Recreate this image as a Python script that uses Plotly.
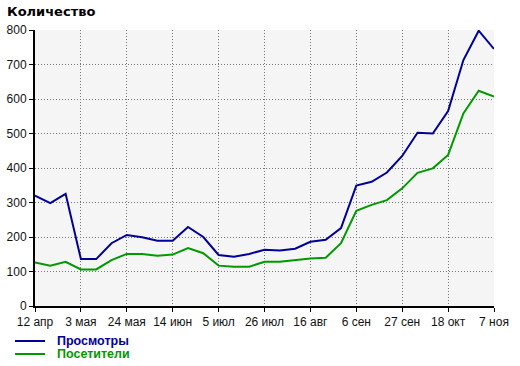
import plotly.graph_objects as go

weeks = list(range(31))
tick_pos = list(range(0, 31, 3))
tick_labels = ["12 апр", "3 мая", "24 мая", "14 июн", "5 июл", "26 июл",
               "16 авг", "6 сен", "27 сен", "18 окт", "7 ноя"]

views = [320, 298, 325, 136, 136, 182, 206, 199, 189, 189, 229, 200, 148, 143, 151,
         163, 161, 166, 186, 192, 226, 349, 360, 387, 435, 502, 500, 565, 713, 798, 745]
visitors = [126, 117, 128, 106, 106, 133, 151, 151, 146, 149, 168, 153, 117, 114, 114,
            128, 128, 133, 138, 140, 182, 276, 293, 307, 341, 386, 399, 438, 558, 624, 607]

BLUE = "#000099"
GREEN = "#009900"

fig = go.Figure()
fig.add_trace(go.Scatter(x=weeks, y=views, mode="lines", name="Просмотры",
                         line=dict(color=BLUE, width=2)))
fig.add_trace(go.Scatter(x=weeks, y=visitors, mode="lines", name="Посетители",
                         line=dict(color=GREEN, width=2)))

W, H = 520, 366
L, R, T, B = 35, 26, 30, 60
pw, ph = W - L - R, H - T - B

def px(x):
    return (x - L) / pw

def py(y):
    return (H - B - y) / ph

shapes = []
annotations = [dict(text="<b>Количество</b>", x=px(5), y=py(12), xref="paper", yref="paper",
                    xanchor="left", yanchor="middle", showarrow=False,
                    font=dict(family="DejaVu Sans", size=13, color="#000"))]
for name, color, ypix in [("Просмотры", BLUE, 341), ("Посетители", GREEN, 354)]:
    shapes.append(dict(type="line", xref="paper", yref="paper", x0=px(15), x1=px(45),
                       y0=py(ypix), y1=py(ypix), line=dict(color=color, width=2)))
    annotations.append(dict(text="<b>" + name + "</b>", x=px(55), y=py(ypix), xref="paper",
                            yref="paper", xanchor="left", yanchor="middle", showarrow=False,
                            font=dict(family="Liberation Sans", size=12.5, color=color)))

fig.update_layout(
    width=W, height=H,
    margin=dict(l=L, r=R, t=T, b=B, autoexpand=False),
    paper_bgcolor="white", plot_bgcolor="#f5f5f5",
    showlegend=False,
    font=dict(family="Liberation Sans", size=12, color="#111"),
    shapes=shapes, annotations=annotations,
)
fig.update_xaxes(range=[0, 30], tickvals=tick_pos, ticktext=tick_labels, automargin=False,
                 showgrid=True, gridcolor="#777", griddash="1px,2px", gridwidth=1,
                 showline=True, linecolor="black", linewidth=2,
                 ticks="outside", ticklen=4, tickcolor="black", zeroline=False)
fig.update_yaxes(range=[0, 800], tickvals=list(range(0, 801, 100)), automargin=False,
                 showgrid=True, gridcolor="#777", griddash="1px,2px", gridwidth=1,
                 showline=True, linecolor="black", linewidth=2,
                 ticks="outside", ticklen=4, tickcolor="black", zeroline=False)

fig.write_html("out.html", config={"displayModeBar": False},
               post_script="document.body.style.margin='0px';document.body.style.padding='0px';")
